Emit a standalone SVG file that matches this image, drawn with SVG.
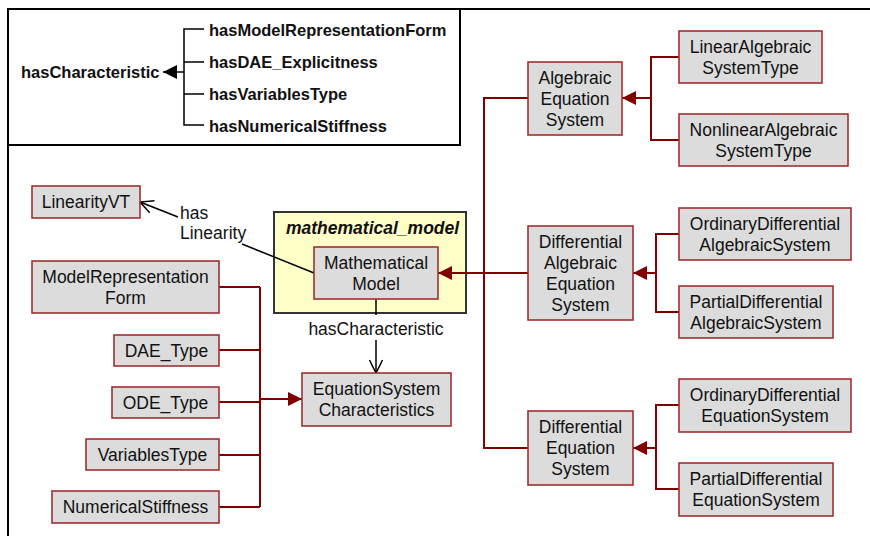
<svg xmlns="http://www.w3.org/2000/svg" width="870" height="536" viewBox="0 0 870 536">
<style>
.n rect{fill:#dcdcdc;stroke:#a03030;stroke-width:1.6}
text{font-family:"Liberation Sans",Arial,sans-serif;font-size:17.5px;fill:#111}
.n text{text-anchor:middle}
.lg{font-weight:bold;font-size:16.5px}
.c{fill:none;stroke:#800000;stroke-width:2}
.k{fill:none;stroke:#000;stroke-width:1.5}
.fr{fill:none;stroke:#000;stroke-width:2}
</style>
<defs>
<marker id="tri" markerUnits="userSpaceOnUse" markerWidth="14" markerHeight="14" refX="14" refY="7" orient="auto"><path d="M0,0 L14,7 L0,14 z" fill="#800000"/></marker>
<marker id="blk" markerUnits="userSpaceOnUse" markerWidth="14" markerHeight="14" refX="14" refY="7" orient="auto"><path d="M0,0 L14,7 L0,14 z" fill="#000"/></marker>
<marker id="open" markerUnits="userSpaceOnUse" markerWidth="16" markerHeight="16" refX="14" refY="8" orient="auto"><path d="M1,1.5 L14,8 L1,14.5" fill="none" stroke="#000" stroke-width="1.5"/></marker>
</defs>
<rect width="870" height="536" fill="#fff"/>
<g id="frame">
<path class="fr" d="M8,536 V9 H870"/>
<path class="fr" d="M460,9 V145 H8"/>
</g>
<g id="legend">
<text class="lg" x="21" y="78">hasCharacteristic</text>
<path class="k" d="M184,72 H163" marker-end="url(#blk)"/>
<path class="k" d="M204,29 H184 V125 H204 M184,62 H204 M184,94 H204"/>
<text class="lg" x="209" y="36">hasModelRepresentationForm</text>
<text class="lg" x="209" y="68">hasDAE_Explicitness</text>
<text class="lg" x="209" y="100">hasVariablesType</text>
<text class="lg" x="209" y="132">hasNumericalStiffness</text>
</g>
<g id="package">
<rect x="274" y="212" width="192" height="101" fill="#ffffc8" stroke="#333" stroke-width="2"/>
<text x="286" y="234" font-weight="bold" font-style="italic">mathematical_model</text>
</g>
<g id="connectors">
<path class="c" d="M219,287 H260 M219,350 H260 M219,402 H260 M219,455 H260 M219,507 H260 M260,287 V507"/>
<path class="c" d="M260,399 H302" marker-end="url(#tri)"/>
<path class="c" d="M528,98 H484 V448 H528"/>
<path class="c" d="M528,273 H438" marker-end="url(#tri)"/>
<path class="c" d="M679,57 H651 V140 H679"/>
<path class="c" d="M651,98 H622" marker-end="url(#tri)"/>
<path class="c" d="M679,234 H656 V312 H679"/>
<path class="c" d="M656,273 H633" marker-end="url(#tri)"/>
<path class="c" d="M679,405 H656 V489 H679"/>
<path class="c" d="M656,448 H633" marker-end="url(#tri)"/>
<path class="k" d="M376,299 V315"/>
<path class="k" d="M376,340 V373" marker-end="url(#open)"/>
<path class="k" d="M314,273 L242,244"/>
<path class="k" d="M178,217 L140,202" marker-end="url(#open)"/>
<text x="376" y="335" text-anchor="middle">hasCharacteristic</text>
<text x="180" y="219">has</text>
<text x="180" y="239">Linearity</text>
</g>
<g id="LinearityVT" class="n"><rect x="32" y="186" width="108" height="32"/><text x="86" y="208">LinearityVT</text></g>
<g id="ModelRepresentationForm" class="n"><rect x="32" y="261" width="187" height="52"/><text x="125.5" y="283">ModelRepresentation</text><text x="125.5" y="304">Form</text></g>
<g id="DAE_Type" class="n"><rect x="114" y="335" width="105" height="31"/><text x="166.5" y="357">DAE_Type</text></g>
<g id="ODE_Type" class="n"><rect x="112" y="387" width="107" height="31"/><text x="165.5" y="409">ODE_Type</text></g>
<g id="VariablesType" class="n"><rect x="86" y="439" width="133" height="31"/><text x="152.5" y="461">VariablesType</text></g>
<g id="NumericalStiffness" class="n"><rect x="52" y="491" width="167" height="32"/><text x="135.5" y="513">NumericalStiffness</text></g>
<g id="EquationSystemCharacteristics" class="n"><rect x="302" y="373" width="149" height="53"/><text x="376.5" y="395">EquationSystem</text><text x="376.5" y="416">Characteristics</text></g>
<g id="MathematicalModel" class="n"><rect x="314" y="247" width="124" height="52"/><text x="376" y="269">Mathematical</text><text x="376" y="290">Model</text></g>
<g id="AlgebraicEquationSystem" class="n"><rect x="528" y="62" width="94" height="73"/><text x="575" y="84">Algebraic</text><text x="575" y="105">Equation</text><text x="575" y="126">System</text></g>
<g id="LinearAlgebraicSystemType" class="n"><rect x="679" y="31" width="143" height="52"/><text x="750.5" y="53">LinearAlgebraic</text><text x="750.5" y="74">SystemType</text></g>
<g id="NonlinearAlgebraicSystemType" class="n"><rect x="679" y="114" width="169" height="52"/><text x="763.5" y="136">NonlinearAlgebraic</text><text x="763.5" y="157">SystemType</text></g>
<g id="DifferentialAlgebraicEquationSystem" class="n"><rect x="528" y="226" width="105" height="94"/><text x="580.5" y="248">Differential</text><text x="580.5" y="269">Algebraic</text><text x="580.5" y="290">Equation</text><text x="580.5" y="311">System</text></g>
<g id="OrdinaryDifferentialAlgebraicSystem" class="n"><rect x="679" y="208" width="172" height="52"/><text x="765" y="230">OrdinaryDifferential</text><text x="765" y="251">AlgebraicSystem</text></g>
<g id="PartialDifferentialAlgebraicSystem" class="n"><rect x="679" y="286" width="154" height="52"/><text x="756" y="308">PartialDifferential</text><text x="756" y="329">AlgebraicSystem</text></g>
<g id="DifferentialEquationSystem" class="n"><rect x="528" y="411" width="105" height="74"/><text x="580.5" y="433">Differential</text><text x="580.5" y="454">Equation</text><text x="580.5" y="475">System</text></g>
<g id="OrdinaryDifferentialEquationSystem" class="n"><rect x="679" y="379" width="172" height="53"/><text x="765" y="401">OrdinaryDifferential</text><text x="765" y="422">EquationSystem</text></g>
<g id="PartialDifferentialEquationSystem" class="n"><rect x="679" y="463" width="154" height="53"/><text x="756" y="485">PartialDifferential</text><text x="756" y="506">EquationSystem</text></g>
</svg>
